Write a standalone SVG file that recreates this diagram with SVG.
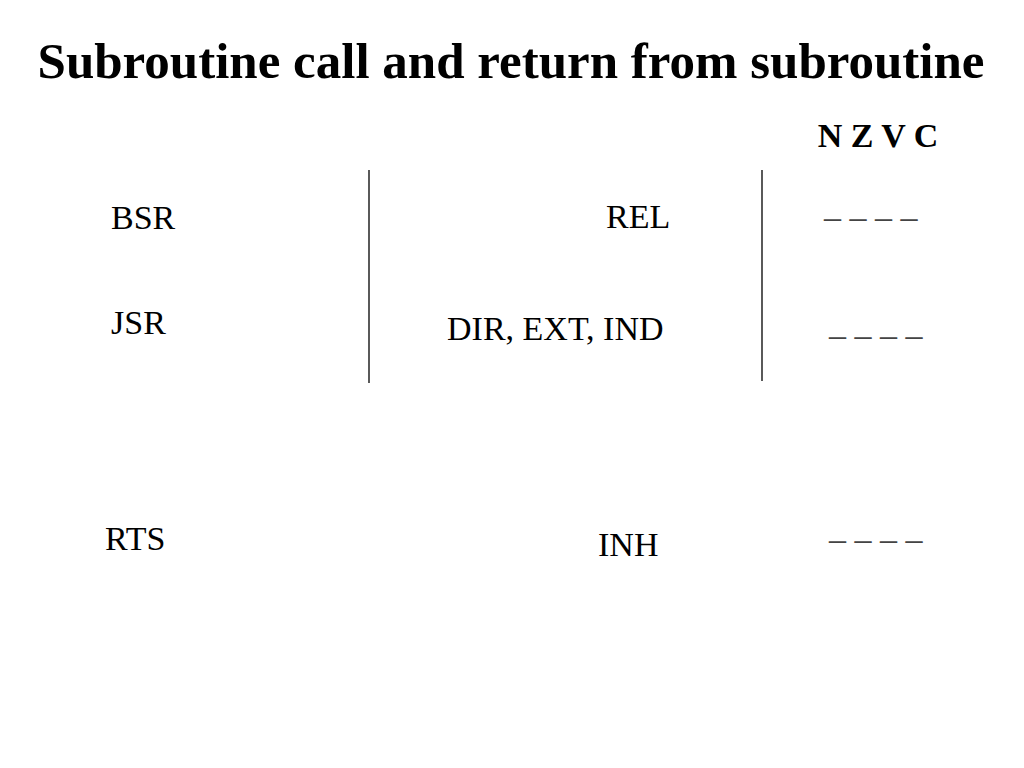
<svg xmlns="http://www.w3.org/2000/svg" width="1024" height="768" viewBox="0 0 1024 768">
<style>
.t{font-family:"Liberation Serif","Times New Roman",serif;fill:#000}
.b{font-weight:bold}
.n{font-size:34px}
.d{font-size:34px;fill:#444}
.rule{stroke:#000;stroke-width:1.3}
</style>
<rect width="1024" height="768" fill="#fff"/>
<text class="t b" x="511" y="78" font-size="51" text-anchor="middle">Subroutine call and return from subroutine</text>
<text class="t b" x="878" y="147" font-size="34" text-anchor="middle">N Z V C</text>
<g id="rules">
<line class="rule" x1="369" y1="170" x2="369" y2="383"/>
<line class="rule" x1="762" y1="170" x2="762" y2="381"/>
</g>
<g id="row-bsr">
<text class="t n" x="111" y="229">BSR</text>
<text class="t n" x="606" y="228">REL</text>
<text class="t d" x="824" y="228">– – – –</text>
</g>
<g id="row-jsr">
<text class="t n" x="111" y="334">JSR</text>
<text class="t n" x="447" y="340">DIR, EXT, IND</text>
<text class="t d" x="829" y="346">– – – –</text>
</g>
<g id="row-rts">
<text class="t n" x="105" y="550">RTS</text>
<text class="t n" x="598" y="556">INH</text>
<text class="t d" x="829" y="550">– – – –</text>
</g>
</svg>
